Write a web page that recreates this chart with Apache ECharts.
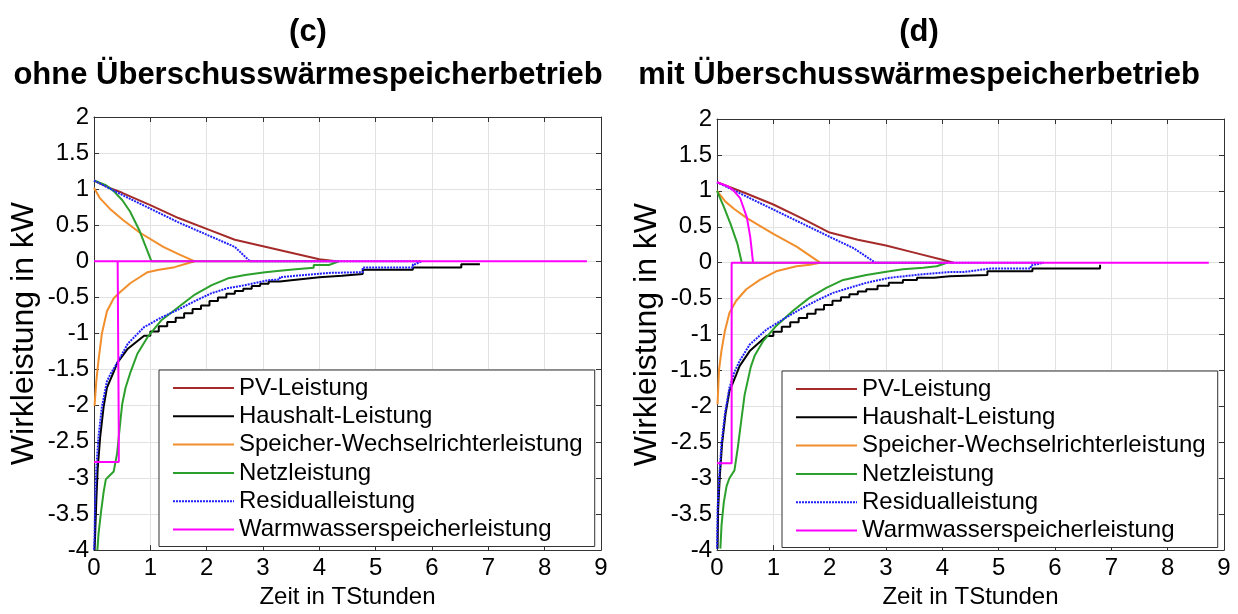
<!DOCTYPE html>
<html><head><meta charset="utf-8">
<script src="https://cdn.jsdelivr.net/npm/echarts@6/dist/echarts.min.js"></script>
<style>html,body{margin:0;padding:0;background:#fff}#c{width:1238px;height:614px}</style>
</head><body><div id="c"></div>
<script>
// ---- labels ----
const seriesNames = ['PV-Leistung','Haushalt-Leistung','Speicher-Wechselrichterleistung','Netzleistung','Residualleistung','Warmwasserspeicherleistung'];
const panelTitles = ['(c)\nohne Überschusswärmespeicherbetrieb', '(d)\nmit Überschusswärmespeicherbetrieb'];
const xAxisName = 'Zeit in TStunden';
const yAxisName = 'Wirkleistung in kW';
const xMin = 0, xMax = 9, xStep = 1;
const yMin = -4, yMax = 2, yStep = 0.5;

// ---- panel (c): ohne Überschusswärmespeicherbetrieb ----
const pvC = [[0,1.12],[0.3,1.01],[0.5,0.95],[1,0.78],[1.5,0.6],[2,0.45],[2.5,0.3],[3,0.21],[3.5,0.12],[4,0.03],[4.3,0]];
const haushaltC = [[0.01,-4],[0.02,-3.79],[0.04,-3.34],[0.065,-2.88],[0.11,-2.43],[0.17,-2.02],[0.23,-1.75],[0.35,-1.53],[0.41,-1.41],[0.6,-1.21],[0.89,-1.03],
  [1.0,-1.03],[1.0,-0.97],[1.15,-0.97],[1.15,-0.9],[1.3,-0.9],[1.3,-0.84],[1.45,-0.84],[1.45,-0.78],[1.6,-0.78],[1.6,-0.72],[1.75,-0.72],[1.75,-0.66],[1.9,-0.66],[1.9,-0.61],[2.05,-0.61],[2.05,-0.55],[2.2,-0.55],[2.2,-0.5],[2.35,-0.5],[2.35,-0.45],[2.5,-0.45],[2.5,-0.41],[2.65,-0.41],[2.65,-0.38],[2.8,-0.38],[2.8,-0.34],[2.95,-0.34],[2.95,-0.31],[3.1,-0.31],[3.1,-0.28],[3.3,-0.28],[3.3,-0.26],[3.5,-0.26],[3.5,-0.24],[3.75,-0.24],[3.75,-0.22],[4.0,-0.22],[4.0,-0.2],[4.4,-0.2],[4.4,-0.175],[4.77,-0.175],[4.77,-0.117],[5.66,-0.117],[5.66,-0.085],[6.52,-0.085],[6.52,-0.04],[6.85,-0.04]];
const speicherC = [[0,1.02],[0.1,0.88],[0.28,0.73],[0.52,0.57],[0.81,0.4],[1.23,0.2],[1.5,0.1],[1.79,0],[1.65,-0.03],[1.43,-0.08],[1.13,-0.12],[0.95,-0.15],[0.83,-0.21],[0.65,-0.3],[0.47,-0.42],[0.35,-0.51],[0.23,-0.69],[0.14,-1.0],[0.08,-1.37],[0.04,-1.67],[0.01,-2.0]];
const netzC = [[0,1.12],[0.2,1.06],[0.34,0.98],[0.5,0.85],[0.64,0.69],[0.81,0.42],[0.92,0.2],[1.02,0],[4.35,0],[4.17,-0.05],[3.9,-0.05],[3.9,-0.09],[3.58,-0.11],[3.3,-0.13],[3.04,-0.15],[2.68,-0.19],[2.38,-0.235],[2.09,-0.33],[1.79,-0.46],[1.49,-0.64],[1.19,-0.82],[0.95,-1.05],[0.77,-1.28],[0.65,-1.53],[0.56,-1.75],[0.5,-1.98],[0.47,-2.2],[0.44,-2.43],[0.41,-2.66],[0.35,-2.91],[0.26,-2.98],[0.21,-3.02],[0.17,-3.2],[0.125,-3.47],[0.08,-3.78],[0.06,-4.0]];
const residualC = [[0,1.12],[0.5,0.92],[1,0.73],[1.5,0.54],[2,0.37],[2.5,0.2],[2.77,0],[5.81,0],[5.7,-0.04],[5.66,-0.04],[5.66,-0.085],[4.77,-0.085],[4.77,-0.15],[4.17,-0.16],[4.17,-0.18],[3.58,-0.2],[3.3,-0.22],[3.3,-0.25],[3.1,-0.26],[2.68,-0.33],[2.38,-0.37],[2.09,-0.44],[1.79,-0.55],[1.49,-0.67],[1.19,-0.78],[0.89,-0.91],[0.6,-1.14],[0.41,-1.41],[0.3,-1.55],[0.23,-1.66],[0.14,-2.02],[0.08,-2.43],[0.04,-2.88],[0.02,-3.34],[0.01,-3.79],[0,-4]];
const warmwasserC = [[0,-2.78],[0.44,-2.78],[0.44,-2.4],[0.42,-2.4],[0.42,0],[0,0],[8.75,0]];

// ---- panel (d): mit Überschusswärmespeicherbetrieb ----
const pvD = [[0,1.12],[0.5,0.97],[1,0.81],[1.5,0.62],[2,0.42],[2.5,0.32],[3,0.24],[3.5,0.14],[4,0.04],[4.2,0]];
const haushaltD = [[0.01,-3.98],[0.02,-3.43],[0.05,-2.97],[0.09,-2.52],[0.15,-2.11],[0.22,-1.79],[0.34,-1.56],[0.4,-1.44],[0.58,-1.23],[0.88,-1.02],
  [1.0,-1.02],[1.0,-0.96],[1.15,-0.96],[1.15,-0.89],[1.3,-0.89],[1.3,-0.83],[1.45,-0.83],[1.45,-0.77],[1.6,-0.77],[1.6,-0.71],[1.75,-0.71],[1.75,-0.65],[1.9,-0.65],[1.9,-0.59],[2.05,-0.59],[2.05,-0.53],[2.2,-0.53],[2.2,-0.48],[2.35,-0.48],[2.35,-0.44],[2.5,-0.44],[2.5,-0.4],[2.65,-0.4],[2.65,-0.37],[2.85,-0.37],[2.85,-0.32],[3.05,-0.32],[3.05,-0.28],[3.3,-0.28],[3.3,-0.24],[3.55,-0.24],[3.55,-0.21],[3.85,-0.21],[3.85,-0.19],[4.13,-0.19],[4.13,-0.17],[4.8,-0.17],[4.8,-0.12],[5.6,-0.12],[5.6,-0.08],[6.8,-0.08],[6.8,-0.03]];
const speicherD = [[0,1.0],[0.15,0.85],[0.3,0.75],[0.53,0.62],[1.0,0.4],[1.42,0.22],[1.83,0],[1.65,-0.03],[1.41,-0.05],[1.05,-0.12],[0.76,-0.24],[0.52,-0.37],[0.34,-0.53],[0.22,-0.7],[0.14,-0.95],[0.08,-1.22],[0.035,-1.5],[0.01,-1.97]];
const netzD = [[0,1.0],[0.12,0.78],[0.24,0.54],[0.36,0.27],[0.44,0],[4.08,0],[3.9,-0.05],[3.66,-0.07],[3.3,-0.09],[3.06,-0.12],[2.65,-0.17],[2.24,-0.24],[1.94,-0.35],[1.64,-0.49],[1.35,-0.67],[1.05,-0.88],[0.82,-1.09],[0.67,-1.29],[0.6,-1.45],[0.49,-1.84],[0.43,-2.2],[0.37,-2.57],[0.31,-2.89],[0.22,-3.0],[0.17,-3.11],[0.12,-3.34],[0.08,-3.66],[0.06,-3.98]];
const residualD = [[0,1.12],[0.5,0.93],[1,0.74],[1.5,0.55],[2,0.36],[2.43,0.2],[2.81,0],[5.8,0],[5.57,-0.04],[5.57,-0.08],[4.86,-0.08],[4.86,-0.1],[4.38,-0.13],[4.13,-0.13],[3.66,-0.16],[3.06,-0.21],[2.65,-0.28],[2.35,-0.35],[2.06,-0.42],[1.76,-0.53],[1.47,-0.65],[1.17,-0.79],[0.88,-0.93],[0.58,-1.14],[0.4,-1.37],[0.31,-1.52],[0.22,-1.74],[0.14,-2.11],[0.08,-2.52],[0.04,-2.97],[0.01,-3.43],[0,-3.98]];
const warmwasserD = [[0,1.12],[0.2,1.06],[0.3,1.0],[0.41,0.9],[0.53,0.63],[0.59,0.36],[0.64,0],[8.73,0],[0.26,0],[0.26,-2.79],[0,-2.79]];

const colors = ['#A52A2A','#000000','#F28E2B','#2CA02C','#1F1FFF','#FF00FF'];
const FONT = 'Liberation Sans, Arial, Helvetica, sans-serif';

const panelsData = [
  [pvC, haushaltC, speicherC, netzC, residualC, warmwasserC],
  [pvD, haushaltD, speicherD, netzD, residualD, warmwasserD]
];
const grids = [
  {left: 94, top: 117, width: 507, height: 440},
  {left: 717, top: 119, width: 507, height: 438}
];
const titleX = [303, 914];
const legendPos = [{left: 159, top: 370}, {left: 782, top: 371}];

const xAxes = [], yAxes = [], series = [], titles = [], legends = [];
grids.forEach((g, p) => {
  xAxes.push({
    gridIndex: p, type: 'value', min: xMin, max: xMax, interval: xStep, position: 'bottom',
    name: xAxisName, nameLocation: 'middle', nameGap: 34,
    nameTextStyle: {fontSize: 24, color: '#000', fontFamily: FONT},
    axisLine: {show: true, onZero: false, lineStyle: {color: '#333', width: 1}},
    axisTick: {show: true, inside: true, length: 5, lineStyle: {color: '#333'}},
    axisLabel: {fontSize: 24, color: '#000', fontFamily: FONT, margin: 6},
    splitLine: {show: true, lineStyle: {color: '#e2e2e2', width: 1}}
  });
  xAxes.push({
    gridIndex: p, type: 'value', min: xMin, max: xMax, interval: xStep, position: 'top',
    axisLine: {show: true, onZero: false, lineStyle: {color: '#333', width: 1}},
    axisTick: {show: true, inside: true, length: 5, lineStyle: {color: '#333'}},
    axisLabel: {show: false}, splitLine: {show: false}
  });
  yAxes.push({
    gridIndex: p, type: 'value', min: yMin, max: yMax, interval: yStep, position: 'left',
    name: yAxisName, nameLocation: 'middle', nameGap: 54, nameRotate: 90,
    nameTextStyle: {fontSize: 32, color: '#000', fontFamily: FONT},
    axisLine: {show: true, onZero: false, lineStyle: {color: '#333', width: 1}},
    axisTick: {show: true, inside: true, length: 5, lineStyle: {color: '#333'}},
    axisLabel: {fontSize: 24, color: '#000', fontFamily: FONT, margin: 5},
    splitLine: {show: true, lineStyle: {color: '#e2e2e2', width: 1}}
  });
  yAxes.push({
    gridIndex: p, type: 'value', min: yMin, max: yMax, interval: yStep, position: 'right',
    axisLine: {show: true, onZero: false, lineStyle: {color: '#333', width: 1}},
    axisTick: {show: true, inside: true, length: 5, lineStyle: {color: '#333'}},
    axisLabel: {show: false}, splitLine: {show: false}
  });
  panelsData[p].forEach((d, i) => {
    series.push({
      name: seriesNames[i], type: 'line', data: d,
      xAxisIndex: p * 2, yAxisIndex: p * 2,
      symbol: 'none', silent: true, animation: false, z: 2 + i,
      lineStyle: {color: colors[i], width: 2, type: i === 4 ? [2, 1] : 'solid'},
      itemStyle: {color: colors[i]}
    });
  });
  titles.push({
    text: panelTitles[p], left: titleX[p], top: 6, textAlign: 'center',
    textStyle: {fontSize: 31, fontWeight: 'bold', color: '#000', fontFamily: FONT, lineHeight: 43}
  });
  legends.push({
    orient: 'vertical', left: legendPos[p].left, top: legendPos[p].top,
    data: seriesNames, selectedMode: false,
    itemWidth: 61, itemHeight: 14, itemGap: 4.3,
    padding: [6, 12, 5, 13],
    borderColor: '#333', borderWidth: 1, backgroundColor: '#fff',
    itemStyle: {color: 'rgba(0,0,0,0)', borderColor: 'rgba(0,0,0,0)', borderWidth: 0, opacity: 0},
    textStyle: {fontSize: 24, color: '#000', fontFamily: FONT, lineHeight: 24}
  });
});

const chart = echarts.init(document.getElementById('c'), null, {renderer: 'canvas'});
chart.setOption({
  backgroundColor: '#fff',
  animation: false,
  title: titles,
  legend: legends,
  grid: grids,
  xAxis: xAxes,
  yAxis: yAxes,
  series: series
});
</script></body></html>
